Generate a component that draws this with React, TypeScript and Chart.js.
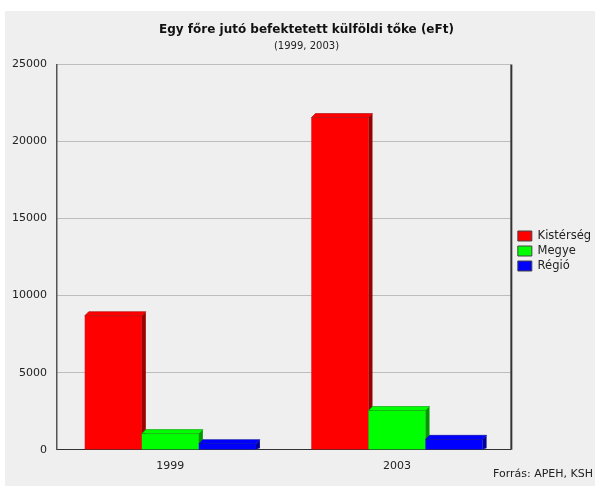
import React, { useEffect, useRef } from "react";
import { Chart, registerables } from "chart.js";

Chart.register(...registerables);

const categories = ["1999", "2003"];
const seriesNames = ["Kistérség", "Megye", "Régió"];
const kisterseg = [8700, 21550];
const megye = [1050, 2550];
const regio = [400, 680];
const yMin = 0;
const yMax = 25000;
const yStep = 5000;
const titleText = "Egy főre jutó befektetett külföldi tőke (eFt)";
const subtitleText = "(1999, 2003)";
const sourceText = "Forrás: APEH, KSH";

const frontColors = ["#ff0000", "#00ff00", "#0000ff"];
const sideColors = ["#9a0000", "#009a00", "#00009a"];
const FONT = "'DejaVu Sans', 'Liberation Sans', sans-serif";

const bar3dPlugin = {
  id: "bar3d",
  afterDatasetsDraw(chart: any) {
    const ctx = chart.ctx;
    const d = 4;
    const n = chart.data.labels.length;
    ctx.save();
    for (let i = 0; i < n; i++) {
      for (let ds = 0; ds < chart.data.datasets.length; ds++) {
        const meta = chart.getDatasetMeta(ds);
        const el = meta.data[i];
        if (!el) continue;
        const { x, y, base, width } = el.getProps(["x", "y", "base", "width"], true);
        const l = x - width / 2;
        const r = x + width / 2;
        ctx.fillStyle = frontColors[ds];
        ctx.fillRect(l, y, width, base - y);
        ctx.fillStyle = sideColors[ds];
        ctx.beginPath();
        ctx.moveTo(r, y);
        ctx.lineTo(r + d, y - d);
        ctx.lineTo(r + d, base - 1);
        ctx.lineTo(r, base);
        ctx.closePath();
        ctx.fill();
        ctx.fillStyle = frontColors[ds];
        ctx.beginPath();
        ctx.moveTo(l, y);
        ctx.lineTo(l + d, y - d);
        ctx.lineTo(r + d, y - d);
        ctx.lineTo(r, y);
        ctx.closePath();
        ctx.fill();
        ctx.strokeStyle = sideColors[ds];
        ctx.lineWidth = 0.6;
        ctx.stroke();
      }
    }
    ctx.restore();
  },
  afterDraw(chart: any) {
    const ctx = chart.ctx;
    const a = chart.chartArea;
    ctx.save();
    ctx.strokeStyle = "#333";
    ctx.lineWidth = 2;
    ctx.beginPath();
    ctx.moveTo(a.right + 1, a.top);
    ctx.lineTo(a.right + 1, a.bottom);
    ctx.stroke();
    ctx.fillStyle = "#222";
    ctx.font = "11px " + FONT;
    ctx.textAlign = "right";
    ctx.textBaseline = "middle";
    ctx.fillText(sourceText, chart.width - 2, chart.height - 12);
    ctx.restore();
  },
};

export default function App() {
  const ref = useRef<HTMLCanvasElement | null>(null);
  useEffect(() => {
    document.body.style.margin = "0";
    const canvas = ref.current;
    if (!canvas) return;
    const series = [kisterseg, megye, regio];
    const chart = new Chart(canvas, {
      type: "bar",
      data: {
        labels: categories,
        datasets: seriesNames.map((name, i) => ({
          label: name,
          data: series[i],
          backgroundColor: frontColors[i],
          borderColor: "#444",
          borderWidth: 1,
          categoryPercentage: 0.755,
          barPercentage: 1,
        })),
      },
      options: {
        responsive: false,
        animation: false,
        layout: { padding: { left: 7, right: -6, top: 0, bottom: 3 } },
        plugins: {
          title: {
            display: true,
            text: titleText,
            color: "#111",
            font: { family: FONT, size: 12, weight: "bold" },
            padding: { top: 12, bottom: 0 },
          },
          subtitle: {
            display: true,
            text: subtitleText,
            color: "#222",
            font: { family: FONT, size: 10 },
            padding: { top: 3, bottom: 12 },
          },
          legend: {
            position: "right",
            title: {
              display: true,
              text: " ",
              font: { family: FONT, size: 5 },
              padding: { top: 1, bottom: 1 },
            },
            labels: {
              boxWidth: 14,
              boxHeight: 10,
              padding: 3.5,
              color: "#222",
              font: { family: FONT, size: 11.5 },
            },
          },
          tooltip: { enabled: false },
        },
        scales: {
          x: {
            grid: { display: false, drawTicks: false },
            border: { color: "#333", width: 1 },
            ticks: { color: "#222", padding: 10, font: { family: FONT, size: 11 } },
          },
          y: {
            min: yMin,
            max: yMax,
            grid: { color: "#8a8a8a", drawTicks: false, borderDash: [1, 1] } as any,
            border: { color: "#555", width: 1.5, dash: [1, 1] },
            ticks: {
              stepSize: yStep,
              color: "#222",
              padding: 10,
              font: { family: FONT, size: 11 },
              callback: (v: any) => String(v),
            },
            afterFit: (s: any) => {
              s.width = 45;
            },
          },
          y2: {
            type: "linear",
            position: "right",
            display: true,
            grid: { display: false, drawTicks: false },
            border: { display: false },
            ticks: { display: false },
            afterFit: (s: any) => {
              s.width = 4;
            },
          },
        },
      },
      plugins: [bar3dPlugin],
    });
    return () => chart.destroy();
  }, []);
  return (
    <div style={{ position: "relative", width: 600, height: 486, background: "#fff" }}>
      <canvas
        ref={ref}
        width={590}
        height={475}
        style={{ position: "absolute", left: 5, top: 11, width: 590, height: 475, background: "#efefef" }}
      />
    </div>
  );
}
